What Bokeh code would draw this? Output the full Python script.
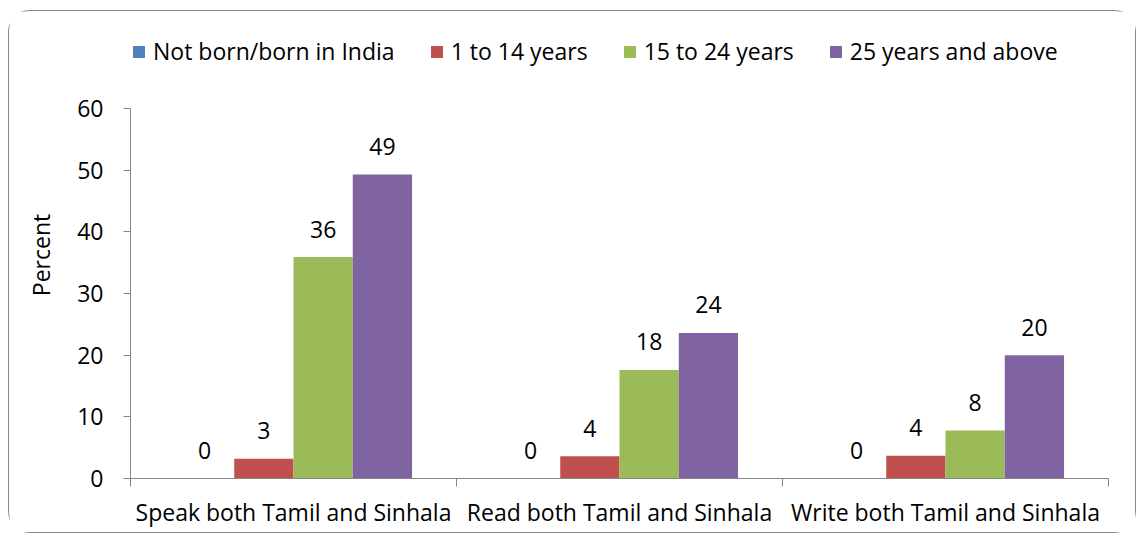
from bokeh.plotting import figure
from bokeh.models import Range1d, FixedTicker, ColumnDataSource, LabelSet, Legend, LegendItem
from bokeh.embed import file_html
from bokeh.resources import INLINE
from bokeh.core.properties import value

categories = ["Speak both Tamil and Sinhala", "Read both Tamil and Sinhala", "Write both Tamil and Sinhala"]
series_names = ["Not born/born in India", "1 to 14 years", "15 to 24 years", "25 years and above"]
not_born = [0.0, 0.0, 0.0]
age_1_14 = [3.2, 3.6, 3.7]
age_15_24 = [35.9, 17.6, 7.8]
age_25_up = [49.3, 23.6, 20.0]
colors = ["#4F81BD", "#C0504D", "#9BBB59", "#8064A2"]
y_ticks = [0, 10, 20, 30, 40, 50, 60]
y_max = 60

FONT = "Open Sans"
FS = "23px"

# frame extends above the axis top so the legend can sit inside it
frame_h, axis_h = 447, 370
p = figure(width=1128, height=523, x_range=Range1d(0, len(categories)),
           y_range=Range1d(0, y_max * frame_h / axis_h), title=None,
           output_backend="svg", toolbar_location=None,
           min_border_left=121, min_border_right=29, min_border_top=20, min_border_bottom=56)
p.margin = (10, 0, 0, 8)
p.outline_line_color = None
p.xgrid.visible = False
p.ygrid.visible = False
p.styles = {"border": "1.5px solid #868686", "border-radius": "22px"}

centers = [i + 0.5 for i in range(len(categories))]
bw = 1 / 5.5
all_series = [not_born, age_1_14, age_15_24, age_25_up]
items = []
for k, (name, vals) in enumerate(zip(series_names, all_series)):
    xs = [c + (k - 1.5) * bw for c in centers]
    src = ColumnDataSource(dict(x=xs, top=vals, label=[str(int(round(v))) for v in vals]))
    r = p.vbar(x="x", top="top", width=bw, source=src, fill_color=colors[k], line_color=None)
    items.append(LegendItem(label=name, renderers=[r]))
    p.add_layout(LabelSet(x="x", y="top", text="label", source=src, y_offset=28,
                          text_align="center", text_baseline="middle",
                          text_font=value(FONT), text_font_size=value(FS), text_color="black"))

legend = Legend(items=items, orientation="horizontal", location=(1, 411),
                glyph_width=15, glyph_height=15, label_standoff=7, spacing=34, padding=0,
                label_text_font=FONT, label_text_font_size=FS, label_text_color="black",
                border_line_color=None, background_fill_alpha=0, label_height=20)
p.add_layout(legend)

xa = p.xaxis[0]
xa.ticker = FixedTicker(ticks=centers, minor_ticks=[float(i) for i in range(len(categories) + 1)])
xa.major_label_overrides = {c: cat for c, cat in zip(centers, categories)}
xa.major_tick_line_color = None
xa.major_tick_out = 0
xa.major_tick_in = 0
xa.minor_tick_out = 8
xa.minor_tick_in = 0
xa.minor_tick_line_color = "#868686"
xa.axis_line_color = "#868686"
xa.major_label_standoff = 9
xa.major_label_text_font = FONT
xa.major_label_text_font_size = FS
xa.major_label_text_color = "black"

ya = p.yaxis[0]
ya.ticker = FixedTicker(ticks=y_ticks)
ya.bounds = (0, y_max)
ya.minor_tick_line_color = None
ya.major_tick_out = 7
ya.major_tick_in = 0
ya.major_tick_line_color = "#868686"
ya.axis_line_color = "#868686"
ya.major_label_standoff = 20
ya.major_label_text_font = FONT
ya.major_label_text_font_size = FS
ya.major_label_text_color = "black"
ya.axis_label = "Percent"
ya.axis_label_text_font = FONT
ya.axis_label_text_font_size = FS
ya.axis_label_text_font_style = "normal"
ya.axis_label_text_color = "black"
ya.axis_label_standoff = 17

open("out.html", "w").write(file_html(p, INLINE))
